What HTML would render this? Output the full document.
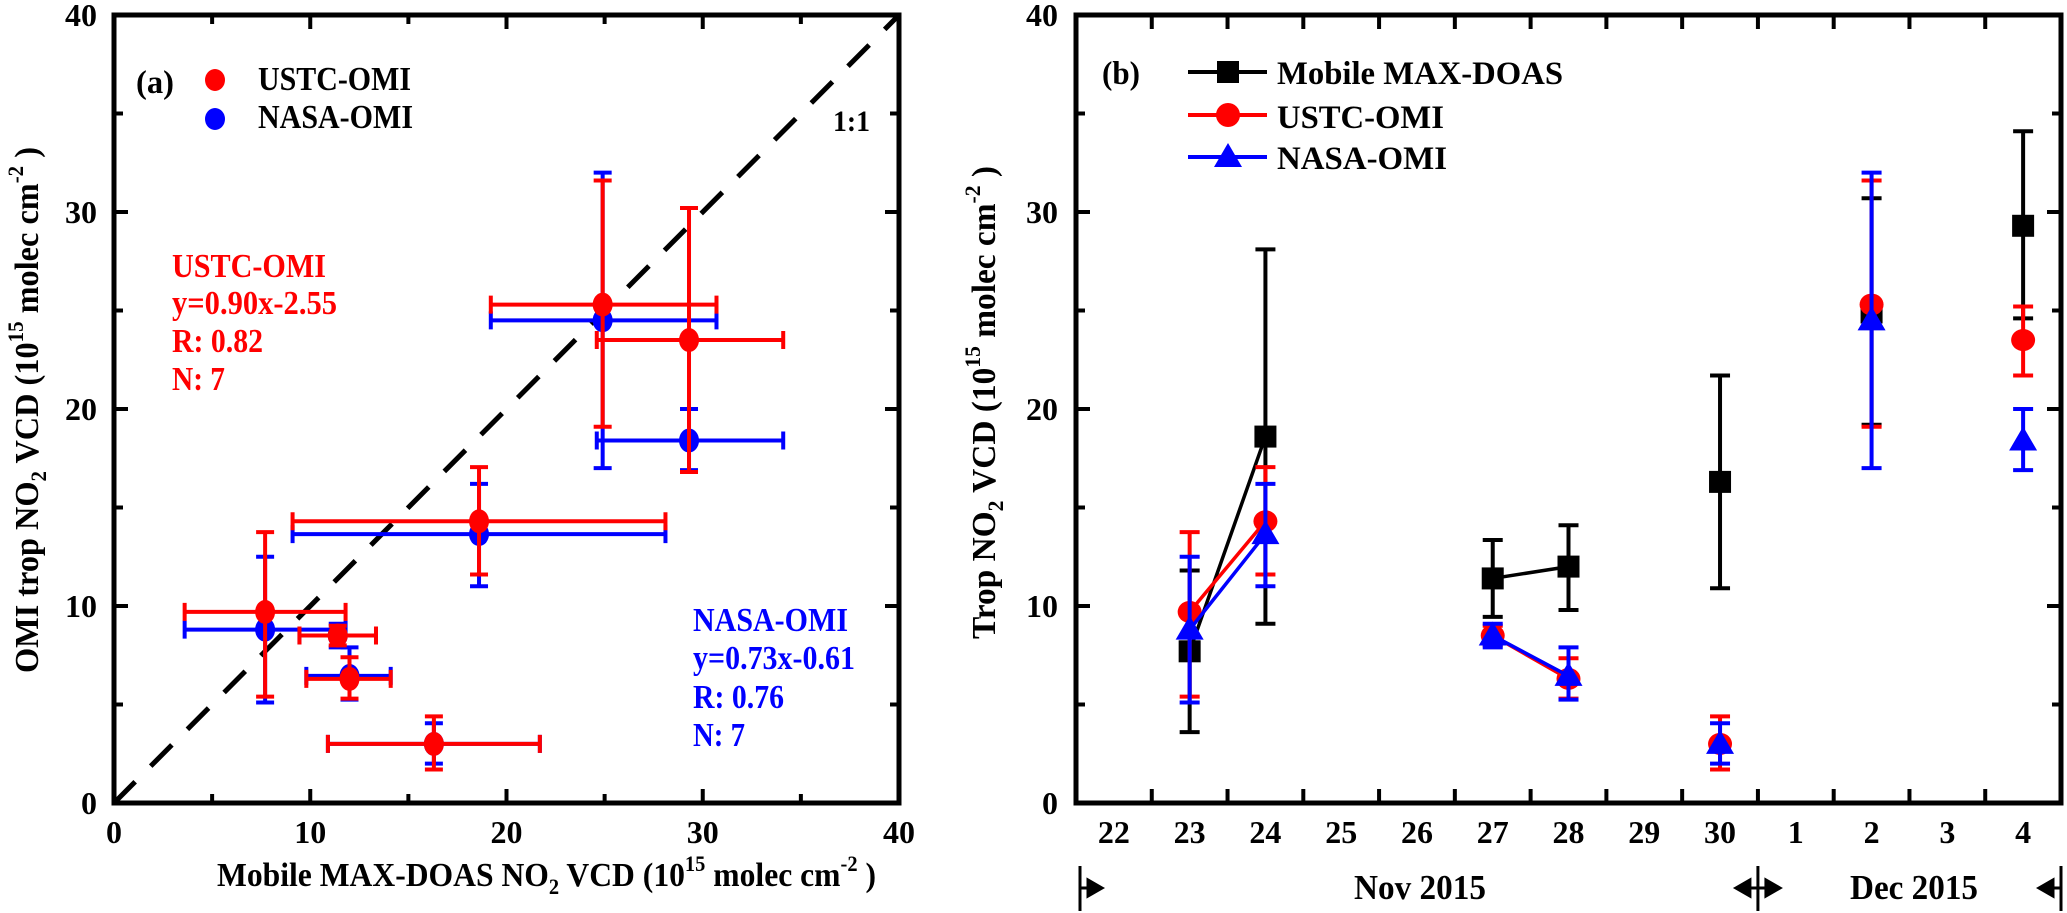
<!DOCTYPE html>
<html><head><meta charset="utf-8">
<style>
html,body{margin:0;padding:0;background:#fff;}
svg{display:block;font-family:"Liberation Serif",serif;font-weight:bold;}
</style></head>
<body>
<svg id="fig" width="2067" height="913" viewBox="0 0 2067 913" xmlns="http://www.w3.org/2000/svg">
  <g>
    <text x="136" y="93" font-size="33" textLength="38" lengthAdjust="spacingAndGlyphs">(a)</text>
    <text x="258" y="90" font-size="34" textLength="153" lengthAdjust="spacingAndGlyphs">USTC-OMI</text>
    <text x="258" y="128" font-size="34" textLength="155" lengthAdjust="spacingAndGlyphs">NASA-OMI</text>
    <text x="833" y="131" font-size="30" textLength="37" lengthAdjust="spacingAndGlyphs">1:1</text>
    <g fill="#ff0000" font-size="34">
      <text x="172" y="277" textLength="154" lengthAdjust="spacingAndGlyphs">USTC-OMI</text>
      <text x="172" y="314" textLength="165" lengthAdjust="spacingAndGlyphs">y=0.90x-2.55</text>
      <text x="172" y="352" textLength="91" lengthAdjust="spacingAndGlyphs">R: 0.82</text>
      <text x="172" y="390" textLength="53" lengthAdjust="spacingAndGlyphs">N: 7</text>
    </g>
    <g fill="#0000ff" font-size="34">
      <text x="693" y="631" textLength="155" lengthAdjust="spacingAndGlyphs">NASA-OMI</text>
      <text x="693" y="669" textLength="162" lengthAdjust="spacingAndGlyphs">y=0.73x-0.61</text>
      <text x="693" y="708" textLength="91" lengthAdjust="spacingAndGlyphs">R: 0.76</text>
      <text x="693" y="746" textLength="52" lengthAdjust="spacingAndGlyphs">N: 7</text>
    </g>
    <text x="217" y="886" font-size="34" textLength="659" lengthAdjust="spacingAndGlyphs">Mobile MAX-DOAS NO<tspan font-size="22" dy="8">2</tspan><tspan dy="-8"> VCD  (10</tspan><tspan font-size="22" dy="-15">15</tspan><tspan dy="15"> molec cm</tspan><tspan font-size="22" dy="-15">-2</tspan><tspan dy="15"> )</tspan></text>
    <text transform="translate(38,673) rotate(-90)" font-size="34" textLength="526" lengthAdjust="spacingAndGlyphs">OMI  trop NO<tspan font-size="22" dy="8">2</tspan><tspan dy="-8"> VCD  (10</tspan><tspan font-size="22" dy="-15">15</tspan><tspan dy="15"> molec cm</tspan><tspan font-size="22" dy="-15">-2</tspan><tspan dy="15"> )</tspan></text>
  </g>
  <g>
    <text x="1102" y="84" font-size="33" textLength="38" lengthAdjust="spacingAndGlyphs">(b)</text>
    <text x="1277" y="84" font-size="33" textLength="286" lengthAdjust="spacingAndGlyphs">Mobile MAX-DOAS</text>
    <text x="1277" y="128" font-size="33" textLength="167" lengthAdjust="spacingAndGlyphs">USTC-OMI</text>
    <text x="1277" y="169" font-size="33" textLength="170" lengthAdjust="spacingAndGlyphs">NASA-OMI</text>
    <text transform="translate(995,639) rotate(-90)" font-size="34" textLength="473" lengthAdjust="spacingAndGlyphs">Trop NO<tspan font-size="22" dy="8">2</tspan><tspan dy="-8"> VCD (10</tspan><tspan font-size="22" dy="-15">15</tspan><tspan dy="15"> molec cm</tspan><tspan font-size="22" dy="-15">-2</tspan><tspan dy="15"> )</tspan></text>
    <text x="1354" y="899" font-size="35" textLength="132" lengthAdjust="spacingAndGlyphs">Nov 2015</text>
    <text x="1850" y="899" font-size="35" textLength="128" lengthAdjust="spacingAndGlyphs">Dec 2015</text>
  </g>
  <g id="gA"></g>
  <g id="gB"></g>
</svg>
<script>
// ---- data ----
const mobileVals = [7.7, 18.6, 11.4, 12.0, 16.3, 24.9, 29.3];
const mobileLo   = [3.6, 9.1, 9.45, 9.8, 10.9, 19.2, 24.6];
const mobileHi   = [11.8, 28.1, 13.35, 14.1, 21.7, 30.7, 34.1];
const ustcVals   = [9.7, 14.3, 8.5, 6.3, 3.0, 25.3, 23.5];
const ustcLoA    = [5.4, 11.6, 8.0, 5.3, 1.7, 19.1, 16.8];
const ustcHiA    = [13.75, 17.05, 9.0, 7.4, 4.4, 31.6, 30.2];
const ustcLoB    = [5.4, 11.6, 8.0, 5.3, 1.7, 19.1, 21.7];
const ustcHiB    = [13.75, 17.05, 9.0, 7.35, 4.4, 31.6, 25.2];
const nasaVals   = [8.8, 13.65, 8.5, 6.45, 3.0, 24.5, 18.4];
const nasaLo     = [5.1, 11.0, 7.9, 5.25, 2.0, 17.0, 16.9];
const nasaHi     = [12.5, 16.2, 9.1, 7.9, 4.05, 32.0, 20.0];
const dayIndex   = [1, 2, 5, 6, 8, 10, 12];
const dayLabels  = ["22","23","24","25","26","27","28","29","30","1","2","3","4"];
const yTicks     = [0, 10, 20, 30, 40];
const xTicksA    = [0, 10, 20, 30, 40];

const NS = "http://www.w3.org/2000/svg";
function mk(tag, attrs, parent){
  const e = document.createElementNS(NS, tag);
  for (const k in attrs) e.setAttribute(k, attrs[k]);
  parent.appendChild(e);
  return e;
}
const Y0 = 803, Y40 = 15;
const yS = v => Y0 - (Y0 - Y40) * v / 40;
const AX0 = 114, AX1 = 899;
const xA = v => AX0 + (AX1 - AX0) * v / 40;
const BX0 = 1076, BX1 = 2061;
const dayW = (BX1 - BX0) / 13;
const xB = i => BX0 + dayW * (i + 0.5);

const gA = document.getElementById('gA');
const gB = document.getElementById('gB');

// ---------- Panel A ----------
let l = mk('line', {x1:xA(0), y1:yS(0), x2:xA(40), y2:yS(40), stroke:'#000', 'stroke-width':5, 'stroke-dasharray':'30 22'}, gA);



for (let v = 0; v <= 40; v += 5) {
  const major = v % 10 === 0, len = major ? 14 : 9;
  const t1 = mk('path', {d:`M${xA(v)},${Y0}v${-len}M${xA(v)},${Y40}v${len}M${AX0},${yS(v)}h${len}M${AX1},${yS(v)}h${-len}`, stroke:'#000', 'stroke-width':4, fill:'none'}, gA);
  
  
}
yTicks.forEach(v => {
  const t = mk('text', {x:97, y:yS(v) + 11, 'font-size':32, 'text-anchor':'end'}, gA);
  t.textContent = v;
  
  
});
xTicksA.forEach(v => {
  const t = mk('text', {x:xA(v), y:843, 'font-size':32, 'text-anchor':'middle'}, gA);
  t.textContent = v;
  
  
});

function errA(x, y, xl, xh, yl, yh, color, g){
  const cap = 9;
  const d = `M${xA(xl)},${yS(y)}H${xA(xh)}M${xA(xl)},${yS(y)-cap}v${2*cap}M${xA(xh)},${yS(y)-cap}v${2*cap}` +
            `M${xA(x)},${yS(yl)}V${yS(yh)}M${xA(x)-cap},${yS(yl)}h${2*cap}M${xA(x)-cap},${yS(yh)}h${2*cap}`;
  return mk('path', {d, stroke:color, 'stroke-width':4, fill:'none'}, g);
}
for (let i = 0; i < mobileVals.length; i++) {
  const p = errA(mobileVals[i], nasaVals[i], mobileLo[i], mobileHi[i], nasaLo[i], nasaHi[i], '#0000ff', gA);
  
  
  const c = mk('ellipse', {cx:xA(mobileVals[i]), cy:yS(nasaVals[i]), rx:10, ry:12, fill:'#0000ff'}, gA);
  
  
}
for (let i = 0; i < mobileVals.length; i++) {
  const p = errA(mobileVals[i], ustcVals[i], mobileLo[i], mobileHi[i], ustcLoA[i], ustcHiA[i], '#ff0000', gA);
  
  
  const c = mk('ellipse', {cx:xA(mobileVals[i]), cy:yS(ustcVals[i]), rx:10, ry:12, fill:'#ff0000'}, gA);
  
  
}
let lm = mk('ellipse', {cx:215, cy:80, rx:10, ry:11, fill:'#ff0000'}, gA);


lm = mk('ellipse', {cx:215, cy:119, rx:10, ry:11, fill:'#0000ff'}, gA);


const fa = mk('rect', {x:AX0, y:Y40, width:AX1-AX0, height:Y0-Y40, fill:'none', stroke:'#000', 'stroke-width':5}, gA);



// ---------- Panel B ----------
for (let v = 0; v <= 40; v += 5) {
  const len = v % 10 === 0 ? 14 : 9;
  const t = mk('path', {d:`M${BX0},${yS(v)}h${len}M${BX1},${yS(v)}h${-len}`, stroke:'#000', 'stroke-width':4}, gB);
  
  
}
for (let k = 1; k < 13; k++) {
  const x = BX0 + dayW * k;
  const t = mk('path', {d:`M${x},${Y0}v-14M${x},${Y40}v14`, stroke:'#000', 'stroke-width':4}, gB);
  
  
}
yTicks.forEach(v => {
  const t = mk('text', {x:1058, y:yS(v) + 11, 'font-size':32, 'text-anchor':'end'}, gB);
  t.textContent = v;
  
  
});
dayLabels.forEach((d, i) => {
  const t = mk('text', {x:xB(i), y:843, 'font-size':32, 'text-anchor':'middle'}, gB);
  t.textContent = d;
  
  
});
const bx = [BX0 + 4, BX0 + dayW * 9, BX1];
bx.forEach(x => {
  const b = mk('line', {x1:x, y1:866, x2:x, y2:911, stroke:'#000', 'stroke-width':3}, gB);
  
  
});
function arrow(x, dir){
  const tip = x + dir * 22;
  const a = mk('path', {d:`M${x},888H${tip - dir*12}M${tip},888L${tip - dir*14},880V896Z`, stroke:'#000', 'stroke-width':3, fill:'#000'}, gB);
  
  
}
arrow(bx[0], 1); arrow(bx[1], -1); arrow(bx[1], 1); arrow(bx[2], -1);

function errB(i, y, lo, hi, color){
  const x = xB(dayIndex[i]), cap = 10;
  return mk('path', {d:`M${x},${yS(lo)}V${yS(hi)}M${x-cap},${yS(lo)}h${2*cap}M${x-cap},${yS(hi)}h${2*cap}`, stroke:color, 'stroke-width':4, fill:'none'}, gB);
}
function seriesLine(vals, color){
  let d = '';
  for (let i = 0; i < vals.length; i++) {
    const prev = i > 0 && dayIndex[i] - dayIndex[i-1] === 1;
    d += (prev ? 'L' : 'M') + xB(dayIndex[i]) + ',' + yS(vals[i]);
  }
  return mk('path', {d, stroke:color, 'stroke-width':3.5, fill:'none'}, gB);
}
let sl = seriesLine(mobileVals, '#000');


for (let i = 0; i < mobileVals.length; i++) {
  const e = errB(i, mobileVals[i], mobileLo[i], mobileHi[i], '#000');
  
  
  const s = mk('rect', {x:xB(dayIndex[i]) - 11, y:yS(mobileVals[i]) - 11, width:22, height:22, fill:'#000'}, gB);
  
  
}
sl = seriesLine(ustcVals, '#ff0000');


for (let i = 0; i < ustcVals.length; i++) {
  const e = errB(i, ustcVals[i], ustcLoB[i], ustcHiB[i], '#ff0000');
  
  
  const c = mk('ellipse', {cx:xB(dayIndex[i]), cy:yS(ustcVals[i]), rx:12, ry:11, fill:'#ff0000'}, gB);
  
  
}
sl = seriesLine(nasaVals, '#0000ff');


for (let i = 0; i < nasaVals.length; i++) {
  const e = errB(i, nasaVals[i], nasaLo[i], nasaHi[i], '#0000ff');
  
  
  const x = xB(dayIndex[i]), y = yS(nasaVals[i]);
  const t = mk('path', {d:`M${x},${y-14}L${x+14},${y+10}L${x-14},${y+10}Z`, fill:'#0000ff'}, gB);
  
  
}
const legRows = [[72,'#000','sq'],[115,'#ff0000','ci'],[157,'#0000ff','tr']];
legRows.forEach(r => {
  const ln = mk('line', {x1:1188, y1:r[0], x2:1267, y2:r[0], stroke:r[1], 'stroke-width':4}, gB);
  
  
  let m;
  if (r[2] === 'sq') m = mk('rect', {x:1217, y:r[0]-11, width:22, height:22, fill:r[1]}, gB);
  else if (r[2] === 'ci') m = mk('circle', {cx:1228, cy:r[0], r:12, fill:r[1]}, gB);
  else m = mk('path', {d:`M1228,${r[0]-14}L1242,${r[0]+10}L1214,${r[0]+10}Z`, fill:r[1]}, gB);
  
  
});
const fb = mk('rect', {x:BX0, y:Y40, width:BX1-BX0, height:Y0-Y40, fill:'none', stroke:'#000', 'stroke-width':5}, gB);


</script>
</body></html>
